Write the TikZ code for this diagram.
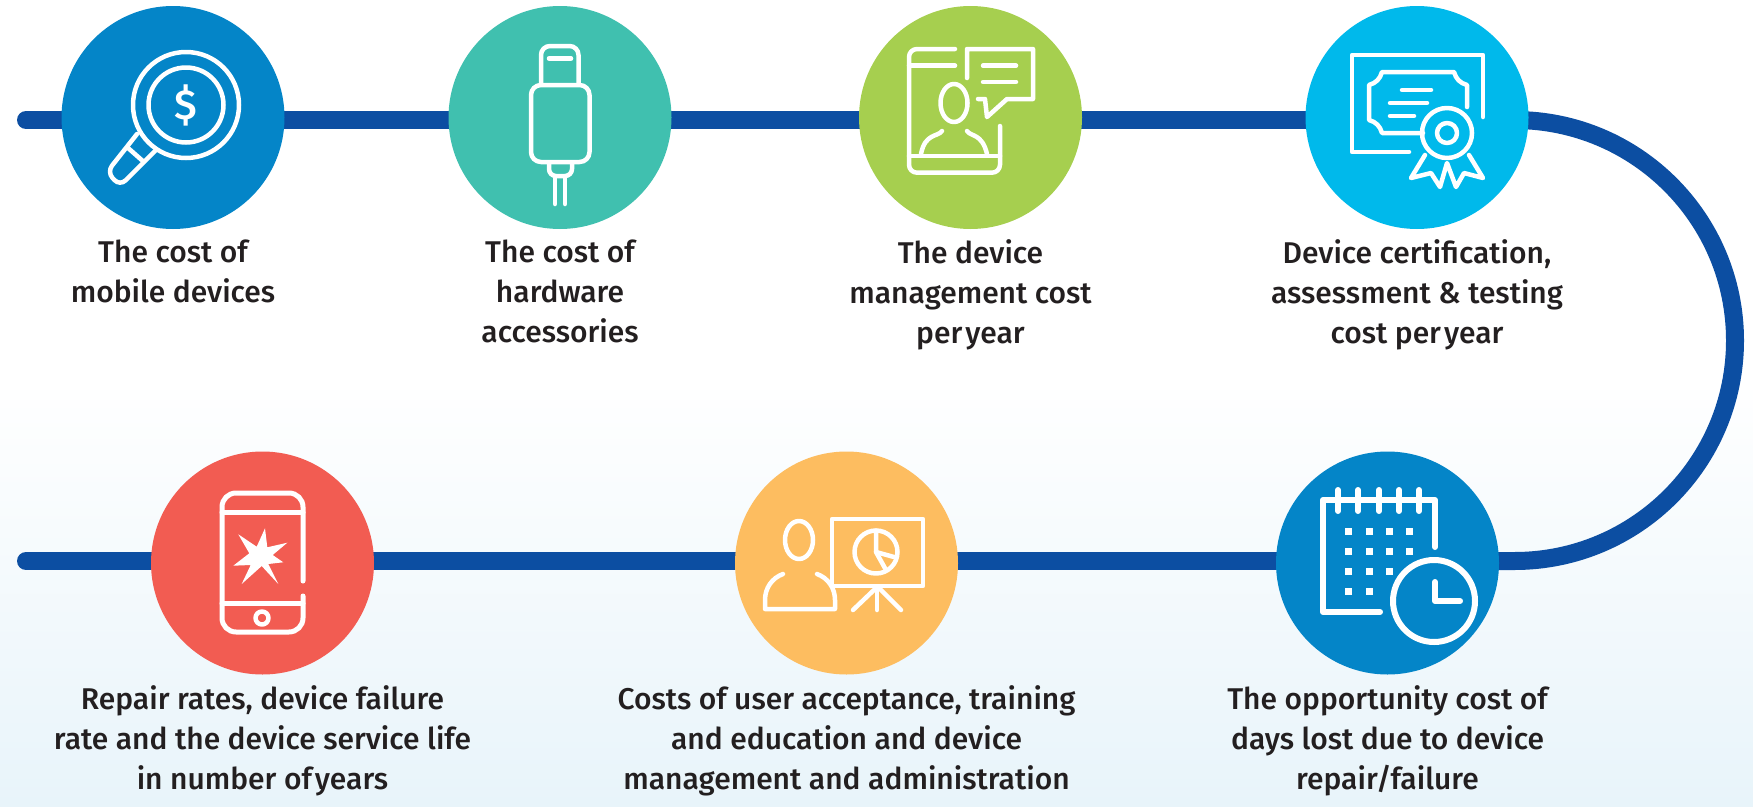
\documentclass[tikz,border=0pt]{standalone}
\usepackage{fontspec}
\usepackage{xcolor}
\usetikzlibrary{positioning,backgrounds}
\setmainfont{Fira Sans}[UprightFont=* Medium]

\definecolor{pipeblue}{HTML}{0C4EA2}
\definecolor{costblue}{HTML}{0485C8}
\definecolor{costteal}{HTML}{40C0AF}
\definecolor{costgreen}{HTML}{A6CF4F}
\definecolor{costcyan}{HTML}{00B9EB}
\definecolor{costorange}{HTML}{FDBD60}
\definecolor{costred}{HTML}{F25C52}
\definecolor{labelgrey}{HTML}{231F20}
\definecolor{paleblue}{HTML}{E8F4FA}

\tikzset{
	stop/.style={circle, fill=#1, draw=none, minimum size=223pt, inner sep=0pt, outer sep=0pt},
	pipe/.style={draw=pipeblue, line width=18pt},
	icon/.style={draw=white, line width=4.5pt, line cap=round, line join=round},
	label/.style={below=11pt of #1, align=center, text=labelgrey, inner sep=0pt, outer sep=0pt, font=\fontsize{30}{40}\selectfont}
}

\begin{document}
\begin{tikzpicture}[x=1pt,y=-1pt]
	\useasboundingbox (0,0) rectangle (1753,806);
	\begin{scope}[on background layer]
		\shade[top color=white, bottom color=paleblue] (0,380) rectangle (1753,806);
	\end{scope}

	\node[stop=costblue] (devices) at (173,117.5) {};
	\node[stop=costteal] (accessories) at (560,117.5) {};
	\node[stop=costgreen] (management) at (970.5,117.5) {};
	\node[stop=costcyan] (certification) at (1417,117.5) {};
	\node[stop=costblue] (opportunity) at (1387.5,563) {};
	\node[stop=costorange] (acceptance) at (846.5,563) {};
	\node[stop=costred] (repair) at (262.5,563) {};

	\coordinate (topstart) at (26,120);
	\coordinate (turntop) at (1514.5,120);
	\coordinate (turnbottom) at (1514.5,561);
	\coordinate (bottomend) at (26,561);

	\begin{scope}[on background layer]
		\draw[pipe, line cap=round] (topstart) -- (topstart -| devices);
		\draw[pipe] (topstart -| devices) -- (topstart -| accessories);
		\draw[pipe] (topstart -| accessories) -- (topstart -| management);
		\draw[pipe] (topstart -| management) -- (topstart -| certification);
		\draw[pipe] (topstart -| certification) -- (turntop) arc[start angle=90, end angle=-90, radius=220.5pt] -- (turnbottom -| opportunity);
		\draw[pipe] (turnbottom -| opportunity) -- (turnbottom -| acceptance);
		\draw[pipe] (turnbottom -| acceptance) -- (turnbottom -| repair);
		\draw[pipe, line cap=round] (turnbottom -| repair) -- (bottomend);
	\end{scope}

	\node[label=devices] (devicestext) {The cost of\\mobile devices};
	\node[label=accessories] (accessoriestext) {The cost of\\hardware\\accessories};
	\node[label=management] (managementtext) {The device\\management cost\\per\hspace{.1em}year};
	\node[label=certification] (certificationtext) {Device certification,\\assessment \& testing\\cost per\hspace{.1em}year};
	\node[label=opportunity] (opportunitytext) {The opportunity cost of\\days lost due to device\\repair/failure};
	\node[label=acceptance] (acceptancetext) {Costs of user acceptance, training\\and education and device\\management and administration};
	\node[label=repair] (repairtext) {Repair rates, device failure\\rate and the device service life\\in number of\hspace{.1em}years};

	% magnifier
	\draw[icon] (186,105) circle[radius=53pt];
	\draw[icon] (186,105) circle[radius=37.5pt];
	\draw[icon, rounded corners=8pt] (137,134) -- (107,172) -- (120,186) -- (156,150);
	\draw[icon] (128.5,148.4) -- (143.5,161.6);
	\node[text=white, inner sep=0pt, font=\fontsize{42}{42}\selectfont] (dollar) at (186,105) {\$};

	% plug
	\draw[icon, rounded corners=9pt] (541,83) -- (541,46) -- (578.5,46) -- (578.5,83);
	\draw[icon] (549,58.5) -- (571,58.5);
	\draw[icon, rounded corners=10pt] (531,85) rectangle (589.5,162);
	\draw[icon, rounded corners=7pt] (549,163) -- (549,176) -- (572,176) -- (572,163);
	\draw[icon] (555,178) -- (555,204);
	\draw[icon] (565,178) -- (565,204);

	% tablet with speech bubble
	\draw[icon, rounded corners=8pt] (955,49) -- (909,49) -- (909,172.7) -- (1000,172.7) -- (1000,126);
	\draw[icon] (909,65.7) -- (955,65.7);
	\draw[icon] (909,156) -- (1000,156);
	\draw[icon] (967,78) -- (967,49) -- (1033,49) -- (1033,99) -- (1007,99) -- (987,117) -- (985,99) -- (978,99);
	\draw[icon] (983,65.7) -- (1016,65.7);
	\draw[icon] (983,82) -- (1016,82);
	\draw[icon] (954,103) ellipse[x radius=13.5pt, y radius=19pt];
	\draw[icon] (942,131) .. controls (938,137) and (925,133) .. (921,154);
	\draw[icon] (967,131) .. controls (971,137) and (982,133) .. (987,154);

	% certificate
	\draw[icon] (1483,117) -- (1483,55) -- (1352,55) -- (1352,152) -- (1409,152);
	\draw[icon] (1467,107) -- (1467,85) .. controls (1460,83) and (1456,79) .. (1454,72) -- (1382,72) .. controls (1380,79) and (1376,83) .. (1369,85) -- (1369,120) .. controls (1376,122) and (1380,126) .. (1382,133) -- (1423,133);
	\draw[icon] (1402,90) -- (1431,90);
	\draw[icon] (1390,103) -- (1427,103);
	\draw[icon] (1390,116) -- (1414,116);
	\draw[icon] (1447,133) circle[radius=25pt];
	\draw[icon] (1447,133) circle[radius=10pt];
	\draw[icon] (1425,155) -- (1411,178) -- (1431,173) -- (1440,187) -- (1447,163) -- (1456,187) -- (1464,173) -- (1483,178) -- (1469,155);

	% calendar
	\draw[icon, line width=6pt] (1435,547) -- (1435,500) -- (1323,500) -- (1323,612) -- (1380,612);
	\foreach \ringx in {1338,1358,1379,1399,1419}
		\draw[icon, line width=6pt] (\ringx,490) -- (\ringx,511);
	\foreach \dotx/\doty in {1348/531,1369/531,1389/531,1409/531,1348/551,1369/551,1389/551,1409/551,1348/571,1369/571,1389/571,1348/591,1369/591}
		\fill[white] (\dotx-3.5,\doty-3.5) rectangle (\dotx+3.5,\doty+3.5);
	\draw[icon, line width=6pt] (1434,601) circle[radius=41pt];
	\draw[icon, line width=6pt] (1435,582) -- (1435,601) -- (1460,601);

	% presenter
	\draw[icon] (799,540) ellipse[x radius=14pt, y radius=19pt];
	\draw[icon] (783,574) .. controls (772,578) and (765,588) .. (765,600) -- (765,609) -- (835,609) -- (835,600) .. controls (835,588) and (828,578) .. (817,574);
	\draw[icon] (832,519) rectangle (923,586);
	\draw[icon] (876,552) circle[radius=21.5pt];
	\draw[icon] (876,530.5) -- (876,552) -- (894,557);
	\draw[icon] (876,552) -- (886,570);
	\draw[icon] (875,589) -- (853,610);
	\draw[icon] (877,589) -- (877,610);
	\draw[icon] (880,589) -- (901,610);

	% broken phone
	\draw[icon, line width=5pt, rounded corners=14pt] (303,581) -- (303,493) -- (222,493) -- (222,632) -- (303,632) -- (303,596);
	\draw[icon, line width=5pt] (222,512) -- (303,512);
	\draw[icon, line width=5pt] (222,603) -- (303,603);
	\draw[icon] (262,618) circle[radius=6.5pt];
	\fill[white] (265,528.3) -- (267.3,547.3) -- (287.3,542.7) -- (272.7,555) -- (283.3,562.3) -- (268.3,564) -- (278.3,584) -- (261.7,566) -- (241.7,584) -- (250.7,565) -- (233.3,565.7) -- (249.3,553.3) -- (238.3,534.3) -- (256.7,546.7) -- cycle;
\end{tikzpicture}
\end{document}
